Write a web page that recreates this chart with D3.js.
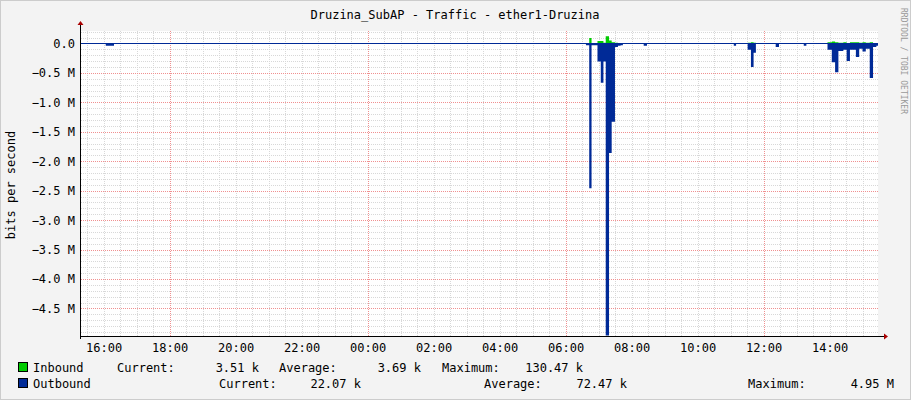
<!DOCTYPE html>
<html><head><meta charset="utf-8">
<script src="https://cdn.jsdelivr.net/npm/d3@7"></script>
<style>body{margin:0;background:#f3f3f3}svg{display:block}text{font-family:"DejaVu Sans Mono",monospace;font-size:12px;fill:#000}</style>
</head><body><svg id="c" width="911" height="400"></svg>
<script>
// time in hours since midnight of day 0 (24 = next midnight)
const times    = [15.3, 16.05, 16.3, 30.6, 30.7, 30.77, 30.95, 31.05, 31.13, 31.2, 31.3, 31.38, 31.48, 31.57, 31.65, 31.72, 32.35, 32.45, 35.08, 35.15, 35.5, 35.6, 35.68, 35.75, 36.35, 36.45, 37.2, 37.28, 37.92, 38.05, 38.15, 38.25, 38.4, 38.5, 38.6, 38.78, 38.88, 38.98, 39.08, 39.2, 39.3, 39.4];
const outbound = [0, -0.03, 0, -0.02, -2.45, -0.02, -0.3, -0.66, -0.3, -4.95, -1.85, -1.32, -0.05, -0.03, -0.02, 0, -0.03, 0, -0.03, 0, -0.1, -0.39, -0.15, 0, -0.05, 0, -0.03, 0, -0.1, -0.31, -0.48, -0.12, -0.1, -0.29, -0.1, -0.22, -0.08, -0.13, -0.08, -0.58, -0.05, -0.03];
const inbound  = [0, 0, 0, 0, 0.1, 0.01, 0.05, 0.05, 0.02, 0.13, 0.06, 0.03, 0.02, 0, 0, 0, 0, 0, 0, 0, 0.02, 0.03, 0.02, 0, 0, 0, 0, 0, 0.03, 0.04, 0.03, 0.02, 0.03, 0.01, 0.03, 0.03, 0.02, 0.03, 0.02, 0.03, 0.01, 0.01];
const yTicks = [0, -0.5, -1, -1.5, -2, -2.5, -3, -3.5, -4, -4.5];
const xTickHours = [16, 18, 20, 22, 24, 26, 28, 30, 32, 34, 36, 38];
const legendIn  = ["Inbound", "Current:", "3.51 k", "Average:", "3.69 k", "Maximum:", "130.47 k"];
const legendOut = ["Outbound", "Current:", "22.07 k", "Average:", "72.47 k", "Maximum:", "4.95 M"];

const svg = d3.select('#c');
const L = 81, R = 878, T = 31, B = 336;
const x = d3.scaleLinear().domain([15.3, 39.45]).range([L, R]);
const y = d3.scaleLinear().domain([-4.96, 0.22]).range([B, T]);

svg.append('rect').attr('x', 0.5).attr('y', 0.5).attr('width', 910).attr('height', 399)
	.attr('fill', '#f3f3f3').attr('stroke', '#ccc');
svg.append('rect').attr('x', L).attr('y', T).attr('width', R - L).attr('height', B - T).attr('fill', '#fff');

// grid
const g = svg.append('g').attr('shape-rendering', 'crispEdges');
d3.range(15.5, 39.45, 0.5).forEach(h => {
	const major = Math.abs(h % 6) < 1e-9;
	g.append('line').attr('x1', x(h)).attr('x2', x(h)).attr('y1', T).attr('y2', B)
		.attr('stroke', major ? '#f09090' : '#d8d8d8').attr('stroke-dasharray', '1,1');
});
d3.range(-4.9, 0.22, 0.1).forEach(v => {
	const major = Math.abs(Math.round(v * 10) % 5) === 0;
	g.append('line').attr('x1', L).attr('x2', R).attr('y1', y(v)).attr('y2', y(v))
		.attr('stroke', major ? '#f09090' : '#d8d8d8').attr('stroke-dasharray', '1,1');
});

const pts = times.map((t, i) => ({t, o: outbound[i], n: inbound[i]}));
pts.push({t: 39.45, o: outbound[outbound.length - 1], n: inbound[inbound.length - 1]});

svg.append('path').datum(pts).attr('fill', '#00cc00')
	.attr('d', d3.area().curve(d3.curveStepAfter).x(d => x(d.t)).y0(y(0)).y1(d => y(d.n)));
svg.append('path').datum(pts).attr('fill', '#002a97')
	.attr('d', d3.area().curve(d3.curveStepAfter).x(d => x(d.t)).y0(y(0)).y1(d => y(d.o)));
svg.append('line').attr('x1', L).attr('x2', R).attr('y1', y(0)).attr('y2', y(0))
	.attr('stroke', '#002a97').attr('shape-rendering', 'crispEdges');

// axes
svg.append('line').attr('x1', L).attr('x2', R + 6).attr('y1', B + 0.5).attr('y2', B + 0.5).attr('stroke', '#000');
svg.append('line').attr('x1', L - 0.5).attr('x2', L - 0.5).attr('y1', B + 3).attr('y2', T - 6).attr('stroke', '#000');
svg.append('path').attr('d', `M${R + 6},${B - 2.5}L${R + 10},${B + 0.5}L${R + 6},${B + 3.5}Z`).attr('fill', '#a00');
svg.append('path').attr('d', `M${L - 3.5},${T - 6}L${L - 0.5},${T - 10}L${L + 2.5},${T - 6}Z`).attr('fill', '#a00');

yTicks.forEach(v => {
	svg.append('text').attr('x', L - 6).attr('y', y(v) + 4).attr('text-anchor', 'end')
		.text(v === 0 ? '0.0' : d3.format('.1f')(v) + ' M');
});
xTickHours.forEach(h => {
	svg.append('text').attr('x', x(h)).attr('y', B + 16).attr('text-anchor', 'middle')
		.text(String(h % 24).padStart(2, '0') + ':00');
});

svg.append('text').attr('x', 455).attr('y', 19).attr('text-anchor', 'middle').text('Druzina_SubAP - Traffic - ether1-Druzina');
svg.append('text').attr('transform', 'translate(15,185) rotate(-90)').attr('text-anchor', 'middle').text('bits per second');
svg.append('text').attr('transform', 'translate(901,8) rotate(90)')
	.style('font-size', '8px').style('fill', '#999').text('RRDTOOL / TOBI OETIKER');

// legend
function legend(row, color, items, xs) {
	svg.append('rect').attr('x', 18.5).attr('y', row - 9.5).attr('width', 9).attr('height', 9)
		.attr('fill', color).attr('stroke', '#000');
	items.forEach((s, i) => {
		const right = i === 2 || i === 4 || i === 6;
		svg.append('text').attr('x', xs[i]).attr('y', row).attr('text-anchor', right ? 'end' : 'start').text(s);
	});
}
legend(372, '#00cc00', legendIn, [33, 117, 259, 279, 421, 442, 583]);
legend(388, '#002a97', legendOut, [33, 219, 361, 484, 627, 748, 894]);
</script></body></html>
